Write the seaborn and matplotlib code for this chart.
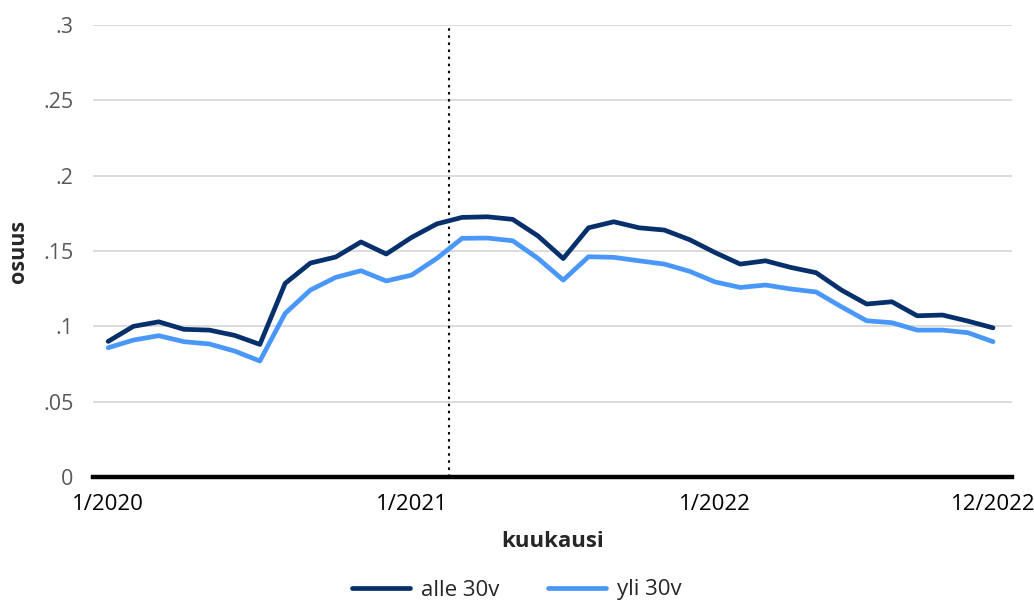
import numpy as np
import pandas as pd
import matplotlib
matplotlib.use("Agg")
import matplotlib.pyplot as plt
import seaborn as sns

##################################################################################################
#                                            DATA                                                #
##################################################################################################

# months 1/2020 .. 12/2022 as index 0..35
months = list(range(36))
tick_pos = [0, 12, 24, 35]
tick_labels = ["1/2020", "1/2021", "1/2022", "12/2022"]
y_ticks = [0, 0.05, 0.1, 0.15, 0.2, 0.25, 0.3]
y_tick_labels = ["0", ".05", ".1", ".15", ".2", ".25", ".3"]

alle_30v = [0.090, 0.100, 0.103, 0.098, 0.0975, 0.094, 0.088, 0.1285, 0.142, 0.146, 0.156, 0.148,
            0.159, 0.168, 0.1723, 0.1727, 0.171, 0.160, 0.145, 0.1654, 0.1694, 0.1654, 0.1639, 0.1575,
            0.149, 0.1413, 0.1435, 0.1391, 0.1356, 0.1241, 0.1148, 0.1163, 0.107, 0.1075, 0.1035, 0.099]
yli_30v = [0.0858, 0.0909, 0.0938, 0.0898, 0.0883, 0.0836, 0.0770, 0.1086, 0.1241, 0.1325, 0.1369, 0.1301,
           0.134, 0.1451, 0.1584, 0.1586, 0.1568, 0.1451, 0.1307, 0.1462, 0.1458, 0.1435, 0.1413, 0.1365,
           0.1295, 0.1258, 0.1274, 0.1248, 0.1228, 0.1130, 0.1037, 0.1024, 0.0975, 0.0975, 0.0958, 0.0898]
series_names = ["alle 30v", "yli 30v"]
series_colors = ["#06306b", "#4a97fa"]
marker_month = 13.5   # dotted reference line

##################################################################################################
#                                            PLOT                                                #
##################################################################################################

df = pd.DataFrame({
    "kuukausi": months * 2,
    "osuus": alle_30v + yli_30v,
    "ryhma": [series_names[0]] * len(months) + [series_names[1]] * len(months),
})

sns.set_theme(style="white")
plt.rcParams["font.family"] = ["Open Sans", "DejaVu Sans"]

fig = plt.figure(figsize=(10.34, 6.08), dpi=100)
ax = fig.add_axes([93 / 1034, 131 / 608, (1012 - 93) / 1034, (477 - 25) / 608])

sns.lineplot(data=df, x="kuukausi", y="osuus", hue="ryhma", hue_order=series_names,
             palette=series_colors, linewidth=3.4, ax=ax, legend=True)

ax.set_xlim(-0.6, 35.75)
ax.set_ylim(0, 0.3)
ax.set_yticks(y_ticks)
ax.set_yticklabels(y_tick_labels)
ax.set_xticks(tick_pos)
ax.set_xticklabels(tick_labels)

ax.grid(axis="y", color="#d9d9d9", linewidth=1.3)
ax.grid(axis="x", visible=False)
ax.set_axisbelow(True)

for side in ["top", "right", "left"]:
    ax.spines[side].set_visible(False)
ax.spines["bottom"].set_color("black")
ax.spines["bottom"].set_linewidth(3.2)

ax.axvline(marker_month, color="black", linestyle=(0, (1.2, 2.2)), linewidth=1.5, zorder=1)

ax.tick_params(axis="y", length=0, pad=14, labelsize=15.5, labelcolor="#595959")
ax.tick_params(axis="x", length=0, pad=12, labelsize=16, labelcolor="black")

ax.set_xlabel("kuukausi", fontsize=16, fontweight="bold", labelpad=12)
ax.set_ylabel("osuus", fontsize=15.5, fontweight="bold", labelpad=10)

ax.legend(loc="center", bbox_to_anchor=(0.461, -0.25), ncol=2, frameon=False,
          fontsize=16, handlelength=2.6, columnspacing=2.2, handletextpad=0.5)

fig.savefig("out.png", dpi=100)
